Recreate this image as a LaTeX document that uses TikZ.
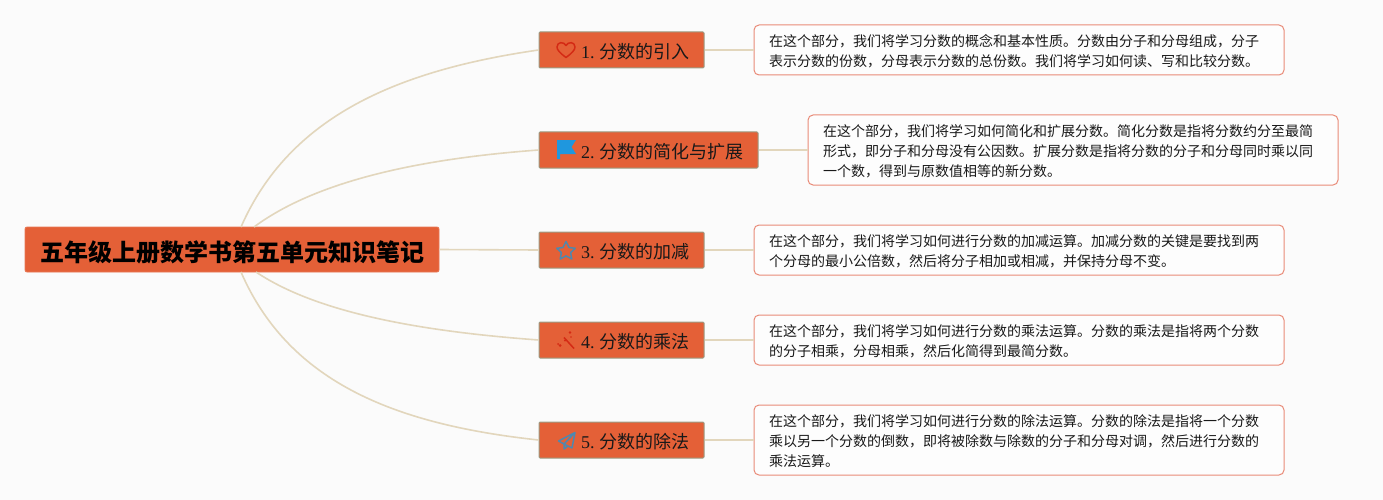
\documentclass[tikz,border=0pt]{standalone}
\usepackage{fontspec}
\setmainfont{Liberation Serif}
\newfontfamily\cjk{Noto Sans CJK SC}
\definecolor{bgc}{HTML}{FBFBFB}
\definecolor{orangec}{HTML}{E46037}
\definecolor{edgec}{HTML}{E2D6BC}
\definecolor{salmon}{HTML}{E98B78}
\definecolor{greyedge}{HTML}{9C9C84}
\definecolor{iconred}{HTML}{D42A14}
\definecolor{iconblue}{HTML}{4F88AE}
\definecolor{flagblue}{HTML}{1F97DE}
\tikzset{
  x=1pt,y=-1pt,
  mainbox/.style={draw=orangec!85!white,line width=0.8pt,fill=orangec,rounded corners=2pt,minimum width=414pt,minimum height=45pt,inner sep=0pt,font=\fontsize{24}{28}\selectfont\cjk\bfseries,text=black},
  branchbox/.style={draw=greyedge,line width=1pt,fill=orangec,rounded corners=1pt,minimum height=36pt,inner sep=0pt,font=\fontsize{18}{22}\selectfont,text=black!90},
  detail/.style={draw=salmon,line width=1pt,fill=white!60!bgc,rounded corners=5pt,minimum width=530pt,inner xsep=15pt,inner ysep=0pt,font=\fontsize{14}{20}\selectfont\cjk,text=black!90},
  edgeline/.style={draw=edgec,line width=1.6pt},
  iconline/.style={line width=1.5pt,line join=round},
}
\newcommand{\lbl}[2]{\hspace*{27pt}\raisebox{-1.5pt}[\height][\depth]{#1\ {\cjk #2}}}
\newcommand{\dtext}[1]{\raisebox{-1pt}[\height][\depth]{\parbox[c]{500pt}{\raggedright #1}}}
\begin{document}
\begin{tikzpicture}
\path[fill=bgc] (0,0) rectangle (1383,500);
\useasboundingbox (0,0) rectangle (1383,500);
\node[mainbox] (root) at (232,249.5) {\raisebox{-2.5pt}[\height][\depth]{五年级上册数学书第五单元知识笔记}};
\node[branchbox,minimum width=165pt] (b1) at (621.5,50) {\lbl{1.}{分数的引入}};
\node[branchbox,minimum width=219pt] (b2) at (648.5,150) {\lbl{2.}{分数的简化与扩展}};
\node[branchbox,minimum width=165pt] (b3) at (621.5,250) {\lbl{3.}{分数的加减}};
\node[branchbox,minimum width=165pt] (b4) at (621.5,340) {\lbl{4.}{分数的乘法}};
\node[branchbox,minimum width=165pt] (b5) at (621.5,440) {\lbl{5.}{分数的除法}};
\node[detail,minimum height=50pt] (d1) at (1019,50) {\dtext{在这个部分，我们将学习分数的概念和基本性质。分数由分子和分母组成，分子\\表示分数的份数，分母表示分数的总份数。我们将学习如何读、写和比较分数。}};
\node[detail,minimum height=70pt] (d2) at (1073,150) {\dtext{在这个部分，我们将学习如何简化和扩展分数。简化分数是指将分数约分至最简\\形式，即分子和分母没有公因数。扩展分数是指将分数的分子和分母同时乘以同\\一个数，得到与原数值相等的新分数。}};
\node[detail,minimum height=50pt] (d3) at (1019,250) {\dtext{在这个部分，我们将学习如何进行分数的加减运算。加减分数的关键是要找到两\\个分母的最小公倍数，然后将分子相加或相减，并保持分母不变。}};
\node[detail,minimum height=50pt] (d4) at (1019,340) {\dtext{在这个部分，我们将学习如何进行分数的乘法运算。分数的乘法是指将两个分数\\的分子相乘，分母相乘，然后化简得到最简分数。}};
\node[detail,minimum height=70pt] (d5) at (1019,440) {\dtext{在这个部分，我们将学习如何进行分数的除法运算。分数的除法是指将一个分数\\乘以另一个分数的倒数，即将被除数与除数的分子和分母对调，然后进行分数的\\乘法运算。}};
\coordinate (s1) at (241,227);
\coordinate (s2) at (254,227);
\coordinate (s4) at (256,272);
\coordinate (s5) at (241,272);
\draw[edgeline] (s1) .. controls (290,115) and (400,70) .. (b1.west);
\draw[edgeline] (s2) .. controls (320,178) and (430,158) .. (b2.west);
\draw[edgeline] (root.east) -- (b3.west);
\draw[edgeline] (s4) .. controls (320,315) and (430,332) .. (b4.west);
\draw[edgeline] (s5) .. controls (290,385) and (400,425) .. (b5.west);
\draw[edgeline] (b1.east) -- (d1.west);
\draw[edgeline] (b2.east) -- (d2.west);
\draw[edgeline] (b3.east) -- (d3.west);
\draw[edgeline] (b4.east) -- (d4.west);
\draw[edgeline] (b5.east) -- (d5.west);
% heart
\draw[iconline,iconred] (566,57.5) .. controls (560,53) and (557,50) .. (557,47) .. controls (557,41.5) and (564,41.5) .. (566,45.5) .. controls (568,41.5) and (575,41.5) .. (575,47) .. controls (575,50) and (572,53) .. (566,57.5) -- cycle;
% flag
\fill[flagblue] (557,140) -- (576,140) -- (571.5,147) -- (576,154) -- (560,154) -- (560,159) -- (557,159) -- cycle;
% star
\draw[iconline,iconblue] (566,241.5) -- (569,247.5) -- (575.2,248.3) -- (570.6,252.6) -- (571.8,259) -- (566,255.9) -- (560.2,259) -- (561.4,252.6) -- (556.8,248.3) -- (563,247.5) -- cycle;
% wand
\draw[iconred,line width=1.5pt] (564,337.5) -- (574,348.5);
\fill[iconred] (560,345.5) circle (1.5);
\fill[iconred] (565,340.5) circle (1.2);
\fill[iconred] (570,332.5) circle (1.3);
\fill[iconred] (558,344) circle (1);
\fill[iconred] (571,337) circle (0.9);
% plane
\draw[iconline,iconblue] (575,432.5) -- (558.5,441) -- (564,444) -- (572,448) -- cycle (575,432.5) -- (564,444) -- (564,449) -- (568,446);
\end{tikzpicture}
\end{document}
